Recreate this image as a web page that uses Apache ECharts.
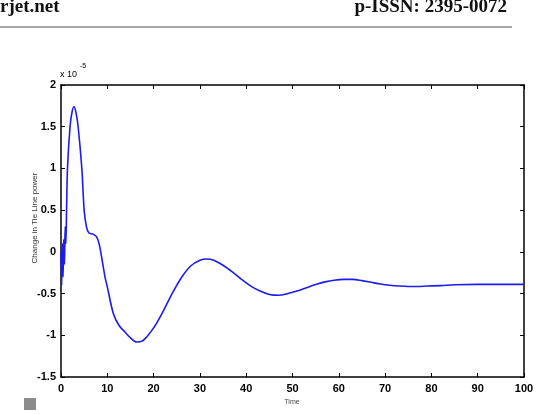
<!DOCTYPE html>
<html>
<head>
<meta charset="utf-8">
<script src="https://cdn.jsdelivr.net/npm/echarts@6/dist/echarts.min.js"></script>
<style>
  html, body { margin: 0; padding: 0; background: #fff; }
  #chart { width: 539px; height: 414px; }
</style>
</head>
<body>
<div id="chart"></div>
<script>
// time (s) and change in tie line power (x 1e-5)
const time = [0, 0.15, 0.3, 0.45, 0.6, 0.75, 0.9, 1.05, 1.2, 1.4, 1.95, 2.4, 2.8, 3.2, 3.7, 4.5,
  5.0, 5.5, 6.0, 7.0, 7.7, 8.3, 9.5, 10, 11.3, 12.5, 13.8, 15, 16.3, 17.5, 18.5, 19.5, 20.5, 22, 24,
  26, 28, 30, 31.5, 33, 35, 37, 39, 41, 43, 45, 47, 49, 51, 53, 55, 57, 59, 61, 63, 65, 67, 69, 71,
  73, 75, 77, 79, 82, 85, 90, 95, 100]
const power = [0, -0.4, 0.1, -0.3, 0.15, -0.15, 0.3, 0.1, 0.5, 1.0, 1.5, 1.68, 1.74, 1.68, 1.5, 1.0,
  0.5, 0.3, 0.23, 0.21, 0.18, 0.08, -0.3, -0.42, -0.74, -0.88, -0.96, -1.03, -1.08, -1.07, -1.02,
  -0.95, -0.87, -0.72, -0.5, -0.31, -0.17, -0.1, -0.085, -0.1, -0.16, -0.24, -0.33, -0.41, -0.47,
  -0.51, -0.52, -0.5, -0.47, -0.43, -0.39, -0.36, -0.34, -0.33, -0.33, -0.345, -0.365, -0.385,
  -0.4, -0.41, -0.415, -0.415, -0.41, -0.405, -0.395, -0.39, -0.39, -0.39]

const xTicks = [0, 10, 20, 30, 40, 50, 60, 70, 80, 90, 100]
const yTicks = [-1.5, -1, -0.5, 0, 0.5, 1, 1.5, 2]

const points = time.map((t, i) => [t, power[i]])

const chart = echarts.init(document.getElementById('chart'))

const labelFont = {
  fontFamily: 'Liberation Sans Narrow, Liberation Sans, sans-serif',
  fontWeight: 'bold',
  fontSize: 11,
  color: '#000'
}

function xAxis(pos, showLabel) {
  return {
    type: 'value',
    position: pos,
    min: xTicks[0],
    max: xTicks[xTicks.length - 1],
    interval: 10,
    axisLine: { show: true, onZero: false, lineStyle: { color: '#000', width: 1.5 } },
    axisTick: { show: true, inside: true, length: 4, lineStyle: { color: '#000' } },
    axisLabel: { show: showLabel, margin: 6, ...labelFont },
    splitLine: { show: false }
  }
}

function yAxis(pos, showLabel) {
  return {
    type: 'value',
    position: pos,
    min: yTicks[0],
    max: yTicks[yTicks.length - 1],
    interval: 0.5,
    axisLine: { show: true, onZero: false, lineStyle: { color: '#000', width: 1.5 } },
    axisTick: { show: true, inside: true, length: 4, lineStyle: { color: '#000' } },
    axisLabel: { show: showLabel, margin: 5, ...labelFont },
    splitLine: { show: false }
  }
}

chart.setOption({
  animation: false,
  backgroundColor: '#fff',
  grid: { left: 61, right: 15, top: 85, bottom: 37 },
  xAxis: [xAxis('bottom', true), xAxis('top', false)],
  yAxis: [yAxis('left', true), yAxis('right', false)],
  series: [{
    type: 'line',
    data: points,
    xAxisIndex: 0,
    yAxisIndex: 0,
    showSymbol: false,
    smooth: 0.3,
    lineStyle: { color: '#1c1cf0', width: 1.6 }
  }],
  graphic: [
    { type: 'text', left: 0, top: -2,
      style: { text: 'rjet.net', font: 'bold 19px "Liberation Serif", serif', fill: '#111' } },
    { type: 'text', right: 32, top: -2,
      style: { text: 'p-ISSN: 2395-0072', font: 'bold 19px "Liberation Serif", serif', fill: '#111' } },
    { type: 'line', shape: { x1: 0, y1: 27, x2: 512, y2: 27 },
      style: { stroke: '#8a8a8a', lineWidth: 1.5 } },
    { type: 'text', left: 60, top: 70,
      style: { text: 'x 10', font: '9px "Liberation Sans Narrow", sans-serif', fill: '#000' } },
    { type: 'text', left: 80, top: 63,
      style: { text: '-5', font: '7px "Liberation Sans Narrow", sans-serif', fill: '#000' } },
    { type: 'text', x: 35, y: 218, rotation: Math.PI / 2,
      style: { text: 'Change in Tie Line power', font: '8px "Liberation Sans", sans-serif',
        fill: '#333', align: 'center', verticalAlign: 'middle' } },
    { type: 'text', x: 292, y: 402,
      style: { text: 'Time', font: '7px "Liberation Sans Narrow", sans-serif',
        fill: '#444', align: 'center', verticalAlign: 'middle' } },
    { type: 'rect', shape: { x: 24, y: 398, width: 12, height: 12 },
      style: { fill: '#8c8c8c' } }
  ]
})
</script>
</body>
</html>
